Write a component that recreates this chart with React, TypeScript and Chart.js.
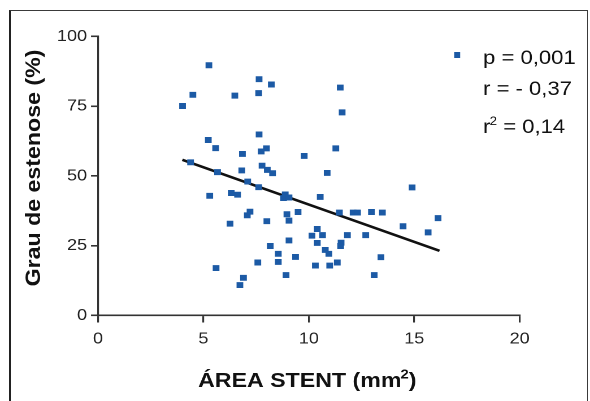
import { useEffect, useRef } from 'react';
import { Chart, registerables } from 'chart.js';

Chart.register(...registerables);

// ---- data ----
const areaStent = [
  4.01, 4.5, 4.39, 5.26, 5.23, 5.58, 5.67, 5.3, 5.6, 6.49, 6.26, 6.32, 6.62, 6.85, 6.82, 7.1, 7.08, 7.21,
  6.73, 6.9, 7.64, 7.62, 8.22, 7.64, 7.99, 7.74, 7.78, 8.03, 8.28, 7.62, 8.01, 7.58, 8.17, 8.55, 8.55,
  8.8, 8.88, 9.06, 8.96, 9.06, 9.06, 8.92, 9.37, 9.49, 9.78, 10.15, 10.4, 10.4, 10.31, 10.54, 10.65,
  10.78, 10.95, 10.99, 10.87, 11.28, 11.49, 11.58, 11.45, 11.53, 11.51, 11.35, 11.83, 12.1, 12.31,
  12.7, 12.97, 13.49, 13.42, 13.1, 14.47, 14.9, 15.66, 16.13,
];
const grauEstenose = [
  75.1, 79.1, 54.9, 89.7, 62.9, 60.0, 51.4, 42.9, 17.0, 78.8, 32.9, 43.9, 43.3, 57.9, 52.0, 48.0, 35.9, 37.2,
  10.9, 13.5, 84.7, 79.7, 82.8, 64.9, 59.9, 58.8, 53.7, 52.2, 51.0, 46.0, 33.8, 19.0, 24.9, 22.1, 19.2,
  42.1, 43.4, 42.3, 36.3, 34.0, 26.9, 14.5, 21.0, 37.1, 57.2, 28.6, 31.0, 26.0, 17.9, 42.5, 28.8,
  23.5, 22.1, 17.9, 51.1, 59.9, 81.7, 72.8, 36.9, 26.1, 24.9, 19.0, 28.8, 36.9, 36.9,
  28.8, 37.1, 36.9, 20.9, 14.5, 32.0, 45.9, 29.8, 34.9,
];
const regressionX = [4.0, 16.2];
const regressionY = [55.8, 23.2];
const xTicks = [0, 5, 10, 15, 20];
const yTicks = [0, 25, 50, 75, 100];
const statLabels = ['p = 0,001', 'r = - 0,37', 'r² = 0,14'];
const xTitle = 'ÁREA STENT (mm²)';
const yTitle = 'Grau de estenose (%)';

const BLUE = '#1c5aa5';
const AXIS = '#333333';
const FONT = "'Liberation Sans', Arial, Helvetica, sans-serif";
const OUT_W = 590;
const OUT_H = 401;
const STRETCH = 1.13; // glyphs in the reference are ~13% wider than Arial
const IN_W = Math.round(OUT_W / STRETCH);

// draws text where '²' is rendered as a raised, smaller '2'
function drawSup(
  ctx: CanvasRenderingContext2D,
  text: string,
  x: number,
  y: number,
  size: number,
  weight: string,
  align: 'left' | 'center',
) {
  const parts = text.split('²');
  const big = `${weight} ${size}px ${FONT}`;
  const small = `${weight} ${Math.round(size * 0.62)}px ${FONT}`;
  let total = 0;
  parts.forEach((p, i) => {
    ctx.font = big;
    total += ctx.measureText(p).width;
    if (i < parts.length - 1) {
      ctx.font = small;
      total += ctx.measureText('2').width;
    }
  });
  let cx = align === 'center' ? x - total / 2 : x;
  ctx.textAlign = 'left';
  parts.forEach((p, i) => {
    ctx.font = big;
    ctx.fillText(p, cx, y);
    cx += ctx.measureText(p).width;
    if (i < parts.length - 1) {
      ctx.font = small;
      ctx.fillText('2', cx - size * 0.04, y - size * 0.42);
      cx += ctx.measureText('2').width - size * 0.04;
    }
  });
}

const annotations = {
  id: 'annotations',
  afterDraw(chart: any) {
    const ctx = chart.ctx as CanvasRenderingContext2D;
    const area = chart.chartArea;
    ctx.save();
    ctx.fillStyle = '#111';
    ctx.textBaseline = 'alphabetic';
    // x title
    drawSup(ctx, xTitle, (area.left + area.right) / 2 - 1, 387, 20.5, 'bold', 'center');
    // y title (rotated)
    ctx.save();
    ctx.translate(35.5, (area.top + area.bottom) / 2 - 8);
    ctx.rotate(-Math.PI / 2);
    ctx.scale(STRETCH, 1 / STRETCH);
    ctx.font = `bold 20.5px ${FONT}`;
    ctx.textAlign = 'center';
    ctx.fillText(yTitle, 0, 0);
    ctx.restore();
    // legend marker
    ctx.fillStyle = BLUE;
    const mx = 457 / STRETCH;
    ctx.fillRect(mx - 2.6, 52, 5.3, 6);
    // stats text
    ctx.fillStyle = '#111';
    const tx = 483 / STRETCH;
    const baselines = [64, 95, 133];
    statLabels.forEach((s, i) => drawSup(ctx, s, tx, baselines[i], 19.5, 'normal', 'left'));
    ctx.restore();
  },
};

export default function App() {
  const ref = useRef<HTMLCanvasElement | null>(null);

  useEffect(() => {
    document.body.style.margin = '0';
    const canvas = ref.current;
    if (!canvas) return;
    const chart = new Chart(canvas, {
      type: 'scatter',
      data: {
        datasets: [
          {
            label: 'dados',
            data: areaStent.map((x, i) => ({ x, y: grauEstenose[i] })),
            backgroundColor: BLUE,
            borderWidth: 0,
            pointStyle: 'rect',
            pointRadius: 4.2,
          },
          {
            label: 'regressão',
            data: regressionX.map((x, i) => ({ x, y: regressionY[i] })),
            showLine: true,
            borderColor: '#111',
            borderWidth: 2.6,
            pointRadius: 0,
            fill: false,
          },
        ],
      },
      options: {
        responsive: false,
        devicePixelRatio: 2,
        animation: false,
        layout: { padding: { left: 0, right: IN_W - 519.5 / STRETCH, top: 36.5, bottom: 0 } },
        plugins: { legend: { display: false }, tooltip: { enabled: false } },
        scales: {
          x: {
            type: 'linear',
            min: 0,
            max: 20,
            afterBuildTicks: (s: any) => {
              s.ticks = xTicks.map((v) => ({ value: v }));
            },
            afterFit: (s: any) => {
              s.height = OUT_H - 315.5;
            },
            grid: { drawOnChartArea: false, drawTicks: true, tickLength: 7, color: AXIS, lineWidth: 1.6 },
            border: { display: true, color: AXIS, width: 1.6 },
            ticks: { color: '#222', font: { family: FONT, size: 16 }, padding: 7, maxRotation: 0 },
          },
          y: {
            type: 'linear',
            min: 0,
            max: 100,
            afterBuildTicks: (s: any) => {
              s.ticks = yTicks.map((v) => ({ value: v }));
            },
            afterFit: (s: any) => {
              s.width = 98 / STRETCH;
            },
            grid: { drawOnChartArea: false, drawTicks: true, tickLength: 6.2, color: AXIS, lineWidth: 1.6 },
            border: { display: true, color: AXIS, width: 1.6 },
            ticks: { color: '#222', font: { family: FONT, size: 16 }, padding: 3.5 },
          },
        },
      },
      plugins: [annotations],
    });
    return () => chart.destroy();
  }, []);

  return (
    <div style={{ position: 'relative', width: OUT_W, height: OUT_H, overflow: 'hidden', background: '#fff' }}>
      <canvas
        ref={ref}
        width={IN_W}
        height={OUT_H}
        style={{ width: OUT_W + 'px', height: OUT_H + 'px', display: 'block' }}
      />
      <div
        style={{
          position: 'absolute',
          left: 9,
          top: 10,
          width: 576,
          height: 400,
          borderTop: '1.5px solid #3a3a3a',
          borderLeft: '2px solid #222',
          borderRight: '1.5px solid #3a3a3a',
          pointerEvents: 'none',
        }}
      />
    </div>
  );
}
